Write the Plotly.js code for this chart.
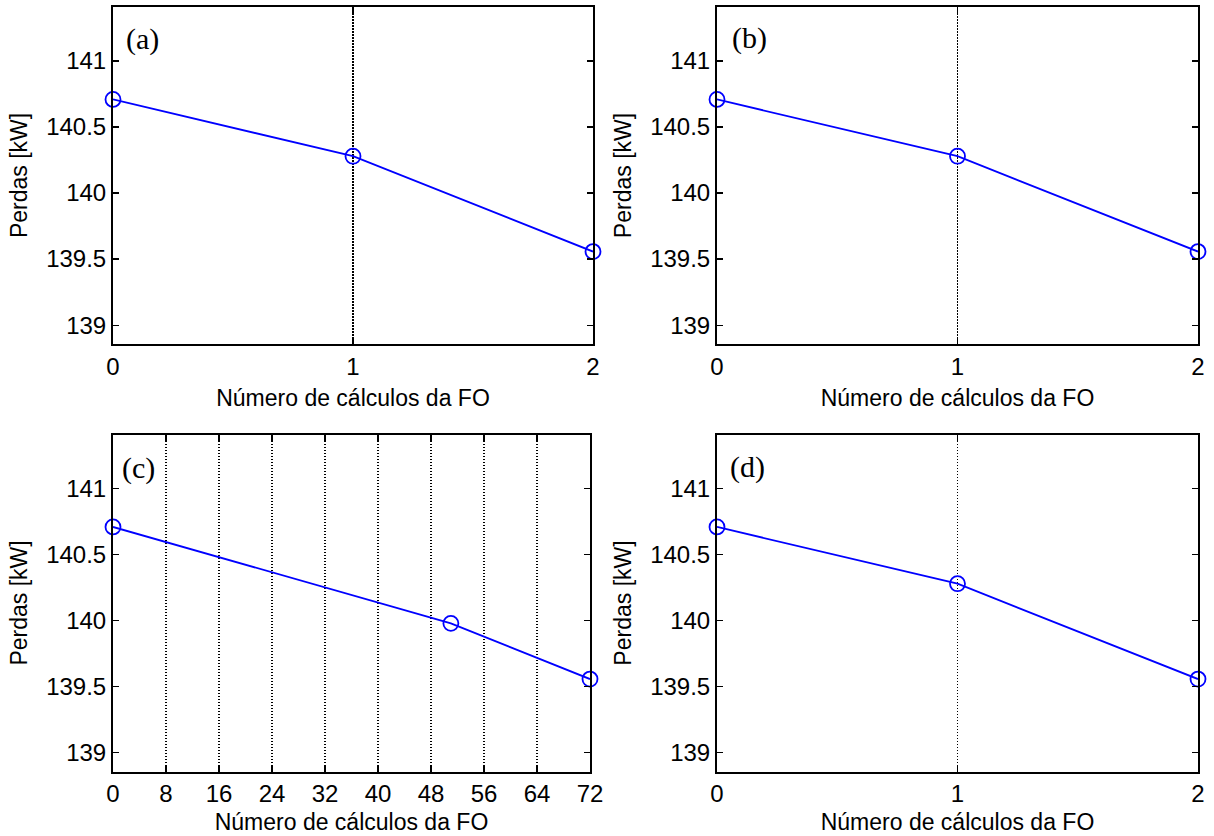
<!DOCTYPE html>
<html>
<head>
<meta charset="utf-8">
<script src="https://cdn.plot.ly/plotly-3.0.1.min.js"></script>
<style>
  html, body { margin: 0; padding: 0; background: #ffffff; }
  #chart { width: 1214px; height: 836px; }
</style>
</head>
<body>
<div id="chart"></div>
<script>
// Perdas (kW) em função do número de cálculos da função objetivo (FO)
const panelLabels = ['(a)', '(b)', '(c)', '(d)'];

const xA = [0, 1, 2];
const yA = [140.709, 140.279, 139.557];

const xB = [0, 1, 2];
const yB = [140.709, 140.279, 139.557];

const xC = [0, 51, 72];
const yC = [140.709, 139.979, 139.557];

const xD = [0, 1, 2];
const yD = [140.709, 140.279, 139.557];

const xTicksShort = [0, 1, 2];
const xTicksLong = [0, 8, 16, 24, 32, 40, 48, 56, 64, 72];
const yTicks = [139, 139.5, 140, 140.5, 141];

const yRange = [138.857, 141.409];
const xTitle = 'Número de cálculos da FO';
const yTitle = 'Perdas [kW]';

const W = 1214, H = 836;
const FONT = 'Liberation Sans, Arial, sans-serif';
const SERIF = 'Liberation Serif, Times New Roman, serif';

// panel boxes in pixels: [left, right, top, bottom]
const boxes = [
  [113, 593, 7, 344],
  [717, 1198, 7, 344],
  [113, 590, 434.5, 771.5],
  [717, 1198, 434.5, 771.5]
];

const seriesX = [xA, xB, xC, xD];
const seriesY = [yA, yB, yC, yD];
const xRanges = [[0, 2], [0, 2], [0, 72], [0, 2]];
const xTickSets = [xTicksShort, xTicksShort, xTicksLong, xTicksShort];

const traces = [];
const layout = {
  width: W, height: H,
  margin: {l: 0, r: 0, t: 0, b: 0},
  paper_bgcolor: '#ffffff',
  plot_bgcolor: '#ffffff',
  showlegend: false,
  font: {family: FONT, size: 23, color: '#000000'},
  annotations: []
};

const labelPos = [[124, 39], [730, 38], [120, 468], [728, 467]];

for (let i = 0; i < 4; i++) {
  const n = i === 0 ? '' : String(i + 1);
  const [l, r, t, b] = boxes[i];
  traces.push({
    type: 'scatter',
    mode: 'lines+markers',
    x: seriesX[i],
    y: seriesY[i],
    xaxis: 'x' + n,
    yaxis: 'y' + n,
    cliponaxis: false,
    line: {color: '#0000ff', width: 1.8},
    marker: {symbol: 'circle-open', size: 15, color: '#0000ff', line: {width: 1.8, color: '#0000ff'}},
    hoverinfo: 'x+y'
  });
  layout['xaxis' + n] = {
    domain: [l / W, r / W],
    anchor: 'y' + n,
    range: xRanges[i],
    tickmode: 'array',
    tickvals: xTickSets[i],
    ticks: 'inside',
    ticklen: 6,
    tickwidth: 1.2,
    tickcolor: '#000000',
    showline: true,
    linecolor: '#000000',
    linewidth: 2,
    mirror: 'ticks',
    showgrid: true,
    gridcolor: '#000000',
    gridwidth: 1.2,
    griddash: '1.5px,1.5px',
    zeroline: false,
    tickfont: {family: FONT, size: 24, color: '#000000'},
    title: {text: xTitle, font: {family: FONT, size: 23, color: '#000000'}, standoff: i >= 2 ? 8 : 11},
    automargin: false
  };
  layout['yaxis' + n] = {
    domain: [1 - b / H, 1 - t / H],
    anchor: 'x' + n,
    range: yRange,
    tickmode: 'array',
    tickvals: yTicks,
    ticks: 'inside',
    ticklen: 6,
    tickwidth: 1.2,
    tickcolor: '#000000',
    showline: true,
    linecolor: '#000000',
    linewidth: 2,
    mirror: 'ticks',
    showgrid: false,
    zeroline: false,
    tickfont: {family: FONT, size: 24, color: '#000000'},
    title: {text: yTitle, font: {family: FONT, size: 23, color: '#000000'}, standoff: 12},
    automargin: false
  };
  layout.annotations.push({
    xref: 'paper', yref: 'paper',
    x: labelPos[i][0] / W, y: 1 - labelPos[i][1] / H,
    xanchor: 'left', yanchor: 'middle',
    text: panelLabels[i],
    showarrow: false,
    font: {family: SERIF, size: 30, color: '#000000'}
  });
}

Plotly.newPlot('chart', traces, layout, {staticPlot: true, displayModeBar: false});
</script>
</body>
</html>
